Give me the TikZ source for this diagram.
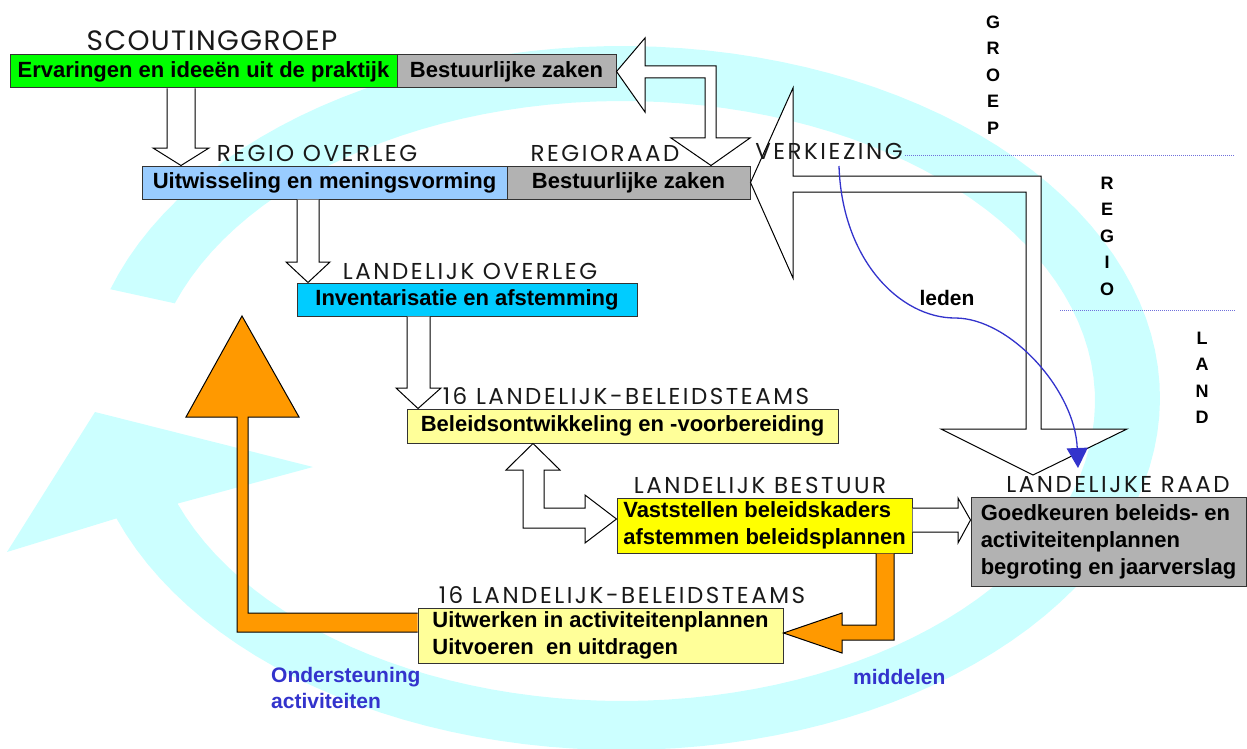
\documentclass[tikz,border=0pt]{standalone}
\usepackage{fontspec}
\setmainfont{Liberation Sans}
\newfontfamily\lblfont[LetterSpace=11]{Poppins}
\newfontfamily\grpfont[LetterSpace=5]{Poppins}
\usetikzlibrary{arrows.meta,calc}

\definecolor{bandcyan}{HTML}{CCFFFF}
\definecolor{boxgreen}{HTML}{00FF00}
\definecolor{boxgray}{HTML}{B2B2B2}
\definecolor{boxblue}{HTML}{99CCFF}
\definecolor{boxcyan}{HTML}{00CCFF}
\definecolor{boxpale}{HTML}{FFFF99}
\definecolor{boxyellow}{HTML}{FFFF00}
\definecolor{arroworange}{HTML}{FF9900}
\definecolor{textblue}{HTML}{3333CC}

\tikzset{
  box/.style={draw=black!80, line width=1pt, inner sep=0pt, font=\bfseries\fontsize{22}{27}\selectfont},
  lbl/.style={font=\lblfont\fontsize{23}{27}\selectfont, text=black!90, inner sep=0pt, anchor=base},
  blockarrow/.style={draw=black, fill=white, line width=1pt},
  orangearrow/.style={draw=black, fill=arroworange, line width=1pt},
  vletters/.style={font=\bfseries\fontsize{18}{26.5}\selectfont, align=center, inner sep=0pt},
  bluelabel/.style={font=\bfseries\fontsize{21}{26}\selectfont, text=textblue, inner sep=0pt, align=left},
  levelline/.style={textblue!70, line width=1pt, dash pattern=on 1pt off 1pt},
}

\begin{document}
\begin{tikzpicture}[x=1pt,y=-1pt]
  \useasboundingbox (0,0) rectangle (1247,749);

  % the big cycle in the background
  \fill[bandcyan] plot[domain=-162:160,samples=120] ({622+538*cos(\x)},{398+352*sin(\x)})
    -- (7,552) -- (95,412) -- (313,467)
    -- plot[domain=160:-161,samples=120] ({622+473*cos(\x)},{401+300*sin(\x)}) -- cycle;

  % borders between the levels
  \draw[levelline] (905,155) -- (1235,155);
  \draw[levelline] (1060,310) -- (1235,310);
  \node[vletters] (vgroep) at (993,75) {G\\R\\O\\E\\P};
  \node[vletters] (vregio) at (1107,236) {R\\E\\G\\I\\O};
  \node[vletters] (vland) at (1202,378) {L\\A\\N\\D};

  % boxes
  \node[box, fill=boxgreen, minimum width=387pt, minimum height=33pt] (grp) at (203.5,71.5) {Ervaringen en ideeën uit de praktijk};
  \node[box, fill=boxgray, minimum width=219pt, minimum height=33pt] (grpbz) at (506.5,71.5) {Bestuurlijke zaken};
  \node[box, fill=boxblue, minimum width=365pt, minimum height=33pt] (reg) at (324.5,182.5) {Uitwisseling en meningsvorming};
  \node[box, fill=boxgray, minimum width=243pt, minimum height=33pt] (regbz) at (628.5,182.5) {Bestuurlijke zaken};
  \node[box, fill=boxcyan, minimum width=340pt, minimum height=33pt] (lo) at (467,299.5) {Inventarisatie en afstemming};
  \node[box, fill=boxpale, minimum width=431pt, minimum height=34pt] (lbt1) at (622.5,426) {Beleidsontwikkeling en -voorbereiding};
  \node[box, fill=boxyellow, minimum width=295pt, minimum height=55pt, align=left] (lb) at (764.5,525.5) {Vaststellen beleidskaders\\afstemmen beleidsplannen};
  \node[box, fill=boxgray, minimum width=275pt, minimum height=89pt, align=left] (lr) at (1108.5,541.5) {Goedkeuren beleids- en\\activiteitenplannen\\begroting en jaarverslag};
  \node[box, fill=boxpale, minimum width=365pt, minimum height=55pt, align=left] (lbt2) at (600.5,635.5) {Uitwerken in activiteitenplannen\\Uitvoeren~ en uitdragen};

  % block arrows
  \draw[blockarrow] (167,0 |- grp.south) -- (167,148) -- (153,148) -- (181,0 |- reg.north) -- (209,148) -- (195,148) -- (195,0 |- grp.south);
  \draw[blockarrow] (297,0 |- reg.south) -- (297,262) -- (286,262) -- (308,0 |- lo.north) -- (330,262) -- (319,262) -- (319,0 |- reg.south);
  \draw[blockarrow] (407,0 |- lo.south) -- (407,388) -- (396,388) -- (418,0 |- lbt1.north) -- (441,388) -- (430,388) -- (430,0 |- lo.south);
  \draw[blockarrow] (533,0 |- lbt1.south) -- (560,470) -- (544,470) -- (544,508) -- (585,508) -- (585,495) -- (lb.west |- 0,519)
    -- (585,543) -- (585,528) -- (523,528) -- (523,470) -- (506,470) -- cycle;
  \draw[blockarrow] (lb.east |- 0,508) -- (958,508) -- (958,498) -- (lr.west |- 0,520) -- (958,543) -- (958,532) -- (lb.east |- 0,532);
  \draw[blockarrow] (grpbz.east) -- (645,38) -- (645,66) -- (716,66) -- (716,138) -- (750,138) -- (711,0 |- regbz.north)
    -- (671,138) -- (705,138) -- (705,78) -- (645,78) -- (645,112) -- cycle;
  \coordinate (raadtip) at (1033,475);
  \draw[blockarrow] (regbz.east) -- (793,88) -- (793,176) -- (1041,176) -- (1041,429) -- (1127,429) -- (raadtip)
    -- (941,429) -- (1026,429) -- (1026,192) -- (793,192) -- (793,278) -- cycle;

  % orange arrows
  \draw[orangearrow] (876,0 |- lb.south) -- (876,625) -- (842,625) -- (842,613) -- (lbt2.east |- 0,633) -- (842,653) -- (842,640) -- (894,640) -- (894,0 |- lb.south);
  \coordinate (steuntip) at (242,316);
  \draw[orangearrow] (lbt2.west |- 0,613) -- (248,613) -- (248,417) -- (299,417) -- (steuntip) -- (186,417) -- (237,417) -- (237,632) -- (lbt2.west |- 0,632);

  % labels
  \node[lbl, font=\grpfont\fontsize{28}{32}\selectfont] (lgrp) at (212,51) {SCOUTINGGROEP};
  \node[lbl] (lreg) at (317,161) {REGIO OVERLEG};
  \node[lbl] (lregraad) at (605,161) {REGIORAAD};
  \node[lbl] (lverk) at (829,160) {VERKIEZING};
  \node[lbl] (llo) at (470,279) {LANDELIJK OVERLEG};
  \node[lbl] (llbt1) at (626,404) {16 LANDELIJK-BELEIDSTEAMS};
  \node[lbl] (llb) at (760,493) {LANDELIJK BESTUUR};
  \node[lbl] (llr) at (1118,492) {LANDELIJKE RAAD};
  \node[lbl] (llbt2) at (622,603) {16 LANDELIJK-BELEIDSTEAMS};

  % leden
  \coordinate (ledenstart) at (839,166);
  \coordinate (ledenend) at (1078,468);
  \draw[textblue, line width=1.3pt, -{Triangle[length=20pt,width=21pt]}] (ledenstart) .. controls (842,260) and (900,318) .. (955,318)
    .. controls (1010,318) and (1075,390) .. (ledenend);
  \node[font=\bfseries\fontsize{21}{26}\selectfont, anchor=base, inner sep=0pt] (leden) at (947,305) {leden};

  \node[bluelabel, anchor=north west] (steun) at (271,667) {Ondersteuning\\activiteiten};
  \node[bluelabel, anchor=base west] (midd) at (853,684) {middelen};
\end{tikzpicture}
\end{document}
